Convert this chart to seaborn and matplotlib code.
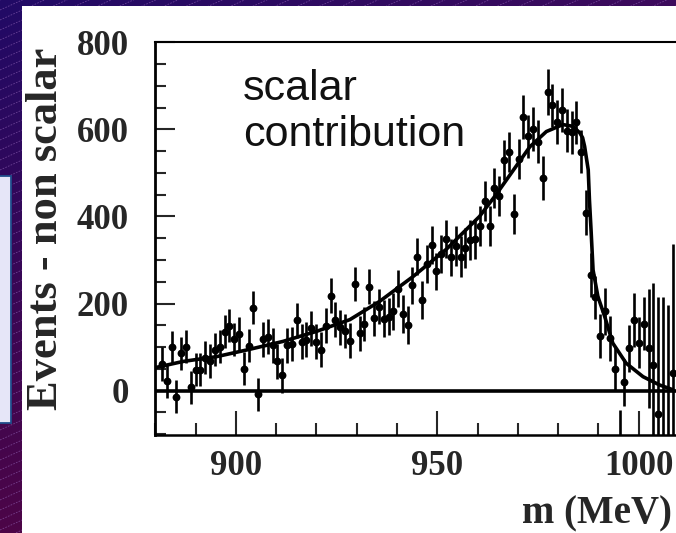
import numpy as np
import pandas as pd
import matplotlib
matplotlib.use("Agg")
import matplotlib.pyplot as plt
from matplotlib.patches import Rectangle
from matplotlib.ticker import MultipleLocator
import seaborn as sns

# ---- data -------------------------------------------------------------
# bin centres (MeV)
mass = [
    881.6, 882.8, 884.0, 885.2, 886.4, 887.6, 888.8, 890.0, 891.2, 892.4,
    893.6, 894.8, 896.0, 897.2, 898.4, 899.6, 900.8, 902.0, 903.2, 904.3,
    905.5, 906.7, 907.9, 909.1, 910.3, 911.5, 912.7, 913.9, 915.1, 916.3,
    917.5, 918.7, 919.9, 921.1, 922.3, 923.5, 924.7, 925.9, 927.1, 928.3,
    929.5, 930.7, 931.9, 933.1, 934.3, 935.5, 936.7, 937.9, 939.1, 940.3,
    941.5, 942.7, 943.8, 945.0, 946.2, 947.4, 948.6, 949.8, 951.0, 952.2,
    953.4, 954.6, 955.8, 957.0, 958.2, 959.4, 960.6, 961.8, 963.0, 964.2,
    965.4, 966.6, 967.8, 969.0, 970.2, 971.4, 972.6, 973.8, 975.0, 976.2,
    977.4, 978.6, 979.8, 981.0, 982.2, 983.4, 984.5, 985.7, 986.9, 988.1,
    989.3, 990.5, 991.7, 992.9, 994.1, 995.3, 996.5, 997.7, 998.9, 1000.1,
    1001.3, 1002.5, 1003.7, 1004.9, 1006.1, 1007.3, 1008.5,
]

# background-subtracted events per bin
events = [
    61, 21, 100, -14, 86, 101, 8, 48, 48, 76,
    68, 94, 101, 135, 149, 118, 130, 50, 103, 190,
    -8, 118, 124, 104, 67, 35, 104, 107, 161, 112,
    117, 143, 112, 94, 149, 218, 163, 145, 137, 115,
    245, 132, 153, 239, 166, 193, 165, 170, 182, 234,
    176, 151, 242, 308, 208, 291, 334, 274, 314, 348,
    306, 333, 308, 327, 346, 348, 379, 436, 379, 465,
    446, 530, 549, 406, 533, 628, 584, 601, 572, 488,
    686, 655, 617, 644, 597, 593, 616, 549, 409, 266,
    214, 126, 182, 120, 50, -150, 19, 97, 162, 110,
    154, 97, 58, -54, -115, -120, 41,
]

# statistical uncertainty per bin
errors = [
    38, 38, 38, 38, 38, 38, 38, 38, 38, 38,
    38, 38, 38, 38, 38, 38, 38, 38, 38, 38,
    38, 40, 40, 40, 40, 40, 40, 40, 40, 40,
    40, 40, 40, 40, 40, 40, 40, 40, 40, 40,
    40, 40, 40, 40, 40, 40, 43, 43, 43, 43,
    43, 43, 43, 43, 43, 43, 43, 43, 43, 43,
    43, 46, 46, 46, 46, 46, 46, 46, 46, 46,
    46, 46, 46, 46, 46, 50, 50, 50, 50, 50,
    52, 50, 50, 50, 50, 50, 50, 50, 52, 50,
    50, 50, 54, 51, 50, 106, 54, 54, 62, 58,
    61, 137, 188, 268, 331, 317, 295,
]

# fitted scalar contribution
fit_mass = [
    880.1, 886.9, 895.2, 903.5, 911.7, 920.0, 928.3, 935.7, 944.0, 952.3,
    960.5, 964.6, 968.8, 973.0, 977.1, 981.2, 983.7, 985.4, 986.1, 986.6,
    987.5, 987.8, 988.2, 988.7, 989.9, 991.6, 993.6, 996.9, 1001.1, 1005.2,
    1008.5,
]
fit_events = [
    53, 67, 78, 95, 113, 136, 163, 205, 262, 325,
    400, 450, 505, 560, 595, 611, 607, 592, 581, 561,
    507, 438, 369, 277, 216, 170, 109, 63, 32, 13,
    2,
]

x_ticks = [900, 950, 1000]
y_ticks = [0, 200, 400, 600, 800]

points = pd.DataFrame({"m": mass, "events": events, "err": errors})
fit = pd.DataFrame({"m": fit_mass, "events": fit_events})

# ---- style ------------------------------------------------------------
sns.set_style("ticks")
plt.rcParams["font.family"] = ["Liberation Serif", "DejaVu Serif"]

W, H = 676, 533
fig = plt.figure(figsize=(W / 100, H / 100), dpi=100)

# slide backdrop: purple gradient with thin diagonal stripes
bg = fig.add_axes([0, 0, 1, 1], zorder=0)
bg.set_xlim(0, W)
bg.set_ylim(H, 0)
bg.axis("off")
yy, xx = np.mgrid[0:1:H * 1j, 0:1:W * 1j]
c_tl = np.array([0.13, 0.04, 0.40])
c_tr = np.array([0.24, 0.04, 0.36])
c_bt = np.array([0.30, 0.02, 0.28])
grad = (c_tl * ((1 - yy) * (1 - xx))[..., None]
        + c_tr * ((1 - yy) * xx)[..., None]
        + c_bt * yy[..., None])
bg.imshow(grad, extent=[0, W, H, 0], aspect="auto", zorder=0)
for c in np.arange(0, H + 0.45 * W + 20, 10):
    bg.plot([0, W], [c, c - 0.45 * W], color="#9466b8", lw=0.6, alpha=0.6,
            ls=(0, (2, 1.5)), zorder=1)
bg.add_patch(Rectangle((22, 6), W - 21, H - 5, fc="white", ec="none", zorder=2))
bg.add_patch(Rectangle((-3, 176), 14, 247, fc="#e6e6f8", ec="#1f4e8c", lw=1.3, zorder=3))

# ---- plot -------------------------------------------------------------
ax = fig.add_axes([155 / W, (H - 435) / H, (W - 155) / W, (435 - 42.3) / H], zorder=1)
ax.set_facecolor("white")

ax.errorbar(points["m"], points["events"], yerr=points["err"], fmt="none",
            ecolor="black", elinewidth=1.9, capsize=0, zorder=2)
sns.scatterplot(data=points, x="m", y="events", ax=ax, color="black",
                s=32, linewidth=0, zorder=3, legend=False)
sns.lineplot(data=fit, x="m", y="events", ax=ax, color="black", lw=2.6,
             sort=False, estimator=None, zorder=4)
ax.axhline(0, color="black", lw=2.6, zorder=4)

ax.set_xlim(879.9, 1009.3)
ax.set_ylim(-102, 800)
ax.set_xticks(x_ticks)
ax.set_yticks(y_ticks)
ax.xaxis.set_minor_locator(MultipleLocator(10))
ax.yaxis.set_minor_locator(MultipleLocator(50))
ax.set_xlabel("")
ax.set_ylabel("")

ax.tick_params(axis="x", which="major", direction="in", length=17, width=1.5,
               pad=11, labelsize=25, top=False)
ax.tick_params(axis="x", which="minor", direction="in", length=8.5, width=1.5, top=False)
ax.tick_params(axis="y", which="major", direction="in", length=14.5, width=1.5,
               pad=19, labelsize=25, right=False)
ax.tick_params(axis="y", which="minor", direction="in", length=8, width=1.5, right=False)
for lab in ax.get_xticklabels() + ax.get_yticklabels():
    lab.set_fontweight("bold")

ax.spines["right"].set_visible(False)
ax.spines["left"].set_linewidth(2.0)
ax.spines["bottom"].set_linewidth(1.8)
ax.spines["top"].set_linewidth(1.5)
for s in ax.spines.values():
    s.set_color("black")

ax.text((243 - 155) / (W - 155), 1 - (69 - 42.3) / (435 - 42.3),
        "scalar\ncontribution", transform=ax.transAxes, ha="left", va="top",
        fontsize=31, family=["Liberation Sans", "DejaVu Sans"], color="#111111")

fig.text(46 / W, 1 - 229 / H, "Events - non scalar", rotation=90,
         ha="center", va="center", fontsize=32, fontweight="bold")
fig.text(672 / W, 1 - 523 / H, "m (MeV)", ha="right", va="baseline",
         fontsize=28, fontweight="bold")

fig.savefig("out.png", dpi=100)
